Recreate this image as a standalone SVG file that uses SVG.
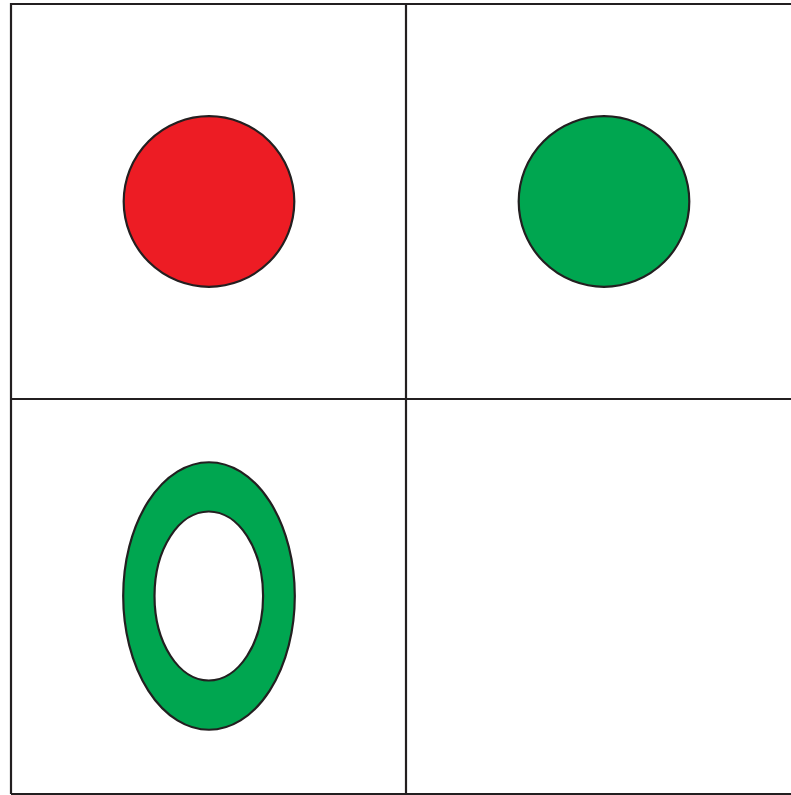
<svg xmlns="http://www.w3.org/2000/svg" width="791" height="795" viewBox="0 0 791 795">
<style>
.grid{fill:none;stroke:#231F20;stroke-width:2.2}
.shape{stroke:#231F20;stroke-width:2.2}
</style>
<rect width="791" height="795" fill="#ffffff"/>
<g id="grid">
<path class="grid" d="M11,794 V4 H795 M11,794 H795 M406,4 V794 M11,399 H795"/>
</g>
<g id="red-circle"><circle class="shape" cx="209" cy="201.5" r="85.3" fill="#ED1C24"/></g>
<g id="green-circle"><circle class="shape" cx="604" cy="201.5" r="85.3" fill="#00A650"/></g>
<g id="green-ring">
<path class="shape" fill="#00A650" fill-rule="evenodd" d="M123.2,596 A85.8,133.7 0 1,0 294.8,596 A85.8,133.7 0 1,0 123.2,596 Z M154.5,596 A54.3,84.5 0 1,1 263.1,596 A54.3,84.5 0 1,1 154.5,596 Z"/>
</g>
</svg>
